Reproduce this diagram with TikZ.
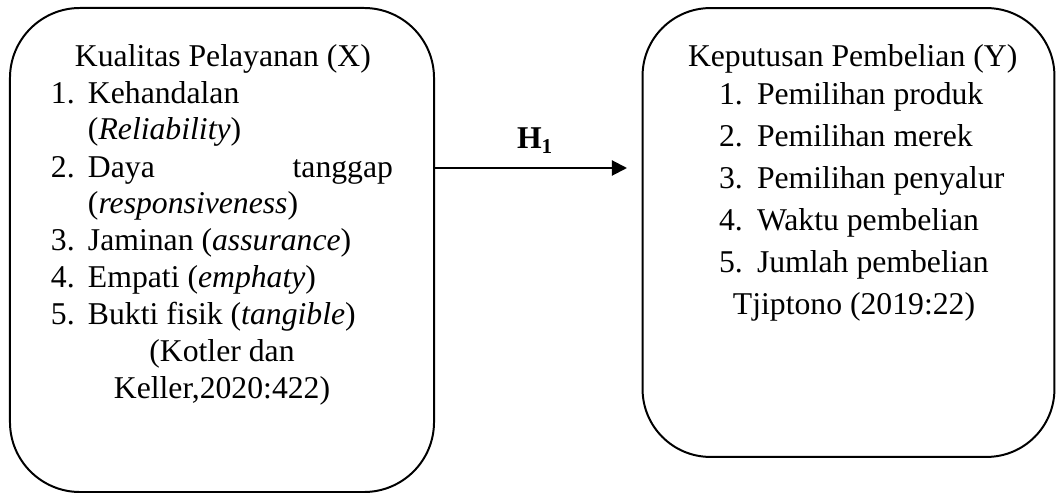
\documentclass[tikz,border=0pt]{standalone}
\usepackage{fontspec}
\setmainfont{Liberation Serif}
\usetikzlibrary{arrows.meta}
\begin{document}
\begin{tikzpicture}[x=0.3785pt,y=-0.3785pt,
  txt/.style={inner sep=0pt,outer sep=0pt,font=\fontsize{12pt}{14pt}\selectfont},
  box/.style={draw,line width=0.75pt,inner sep=0pt},
  conn/.style={line width=0.75pt,-{Triangle[length=5.7pt,width=5.7pt]}}]
\useasboundingbox (0,0) rectangle (1056,493);
% boxes
\node[box,rounded corners=26.5pt,minimum width=160.5pt,minimum height=183.2pt] (lbox) at (222,250) {};
\node[box,rounded corners=25.7pt,minimum width=155.9pt,minimum height=169.9pt] (rbox) at (848.5,232.5) {};
% left text
\node[txt,anchor=base west] (lh) at (75,67) {Kualitas Pelayanan (X)};
\node[txt,anchor=base west] (ln1) at (51,104) {1.};
\node[txt,anchor=base west] (lt1) at (88,104) {Kehandalan};
\node[txt,anchor=base west] (lt1b) at (88,140) {(\textit{Reliability})};
\node[txt,anchor=base west] (ln2) at (51,178) {2.};
\node[txt,anchor=base west] (lt2) at (88,178) {Daya};
\node[txt,anchor=base east] (lt2r) at (393,178) {tanggap};
\node[txt,anchor=base west] (lt2b) at (88,214) {(\textit{responsiveness})};
\node[txt,anchor=base west] (ln3) at (51,251) {3.};
\node[txt,anchor=base west] (lt3) at (88,251) {Jaminan (\textit{assurance})};
\node[txt,anchor=base west] (ln4) at (51,288) {4.};
\node[txt,anchor=base west] (lt4) at (88,288) {Empati (\textit{emphaty})};
\node[txt,anchor=base west] (ln5) at (51,325) {5.};
\node[txt,anchor=base west] (lt5) at (88,325) {Bukti fisik (\textit{tangible})};
\node[txt,anchor=base] (lsrc1) at (222,362) {(Kotler dan};
\node[txt,anchor=base] (lsrc2) at (222,399) {Keller,2020:422)};
% right text
\node[txt,anchor=base west] (rh) at (688,67) {Keputusan Pembelian (Y)};
\node[txt,anchor=base west] (rn1) at (719,105) {1.};
\node[txt,anchor=base west] (rt1) at (757,105) {Pemilihan produk};
\node[txt,anchor=base west] (rn2) at (719,147) {2.};
\node[txt,anchor=base west] (rt2) at (757,147) {Pemilihan merek};
\node[txt,anchor=base west] (rn3) at (719,189) {3.};
\node[txt,anchor=base west] (rt3) at (757,189) {Pemilihan penyalur};
\node[txt,anchor=base west] (rn4) at (719,231) {4.};
\node[txt,anchor=base west] (rt4) at (757,231) {Waktu pembelian};
\node[txt,anchor=base west] (rn5) at (719,273) {5.};
\node[txt,anchor=base west] (rt5) at (757,273) {Jumlah pembelian};
\node[txt,anchor=base] (rsrc) at (854,315) {Tjiptono (2019:22)};
% arrow
\coordinate (tip) at (627,168);
\draw[conn] (lbox.east |- tip) -- (tip);
\node[txt,anchor=base west] (h1) at (517,149) {\textbf{H\textsubscript{1}}};
\end{tikzpicture}
\end{document}
